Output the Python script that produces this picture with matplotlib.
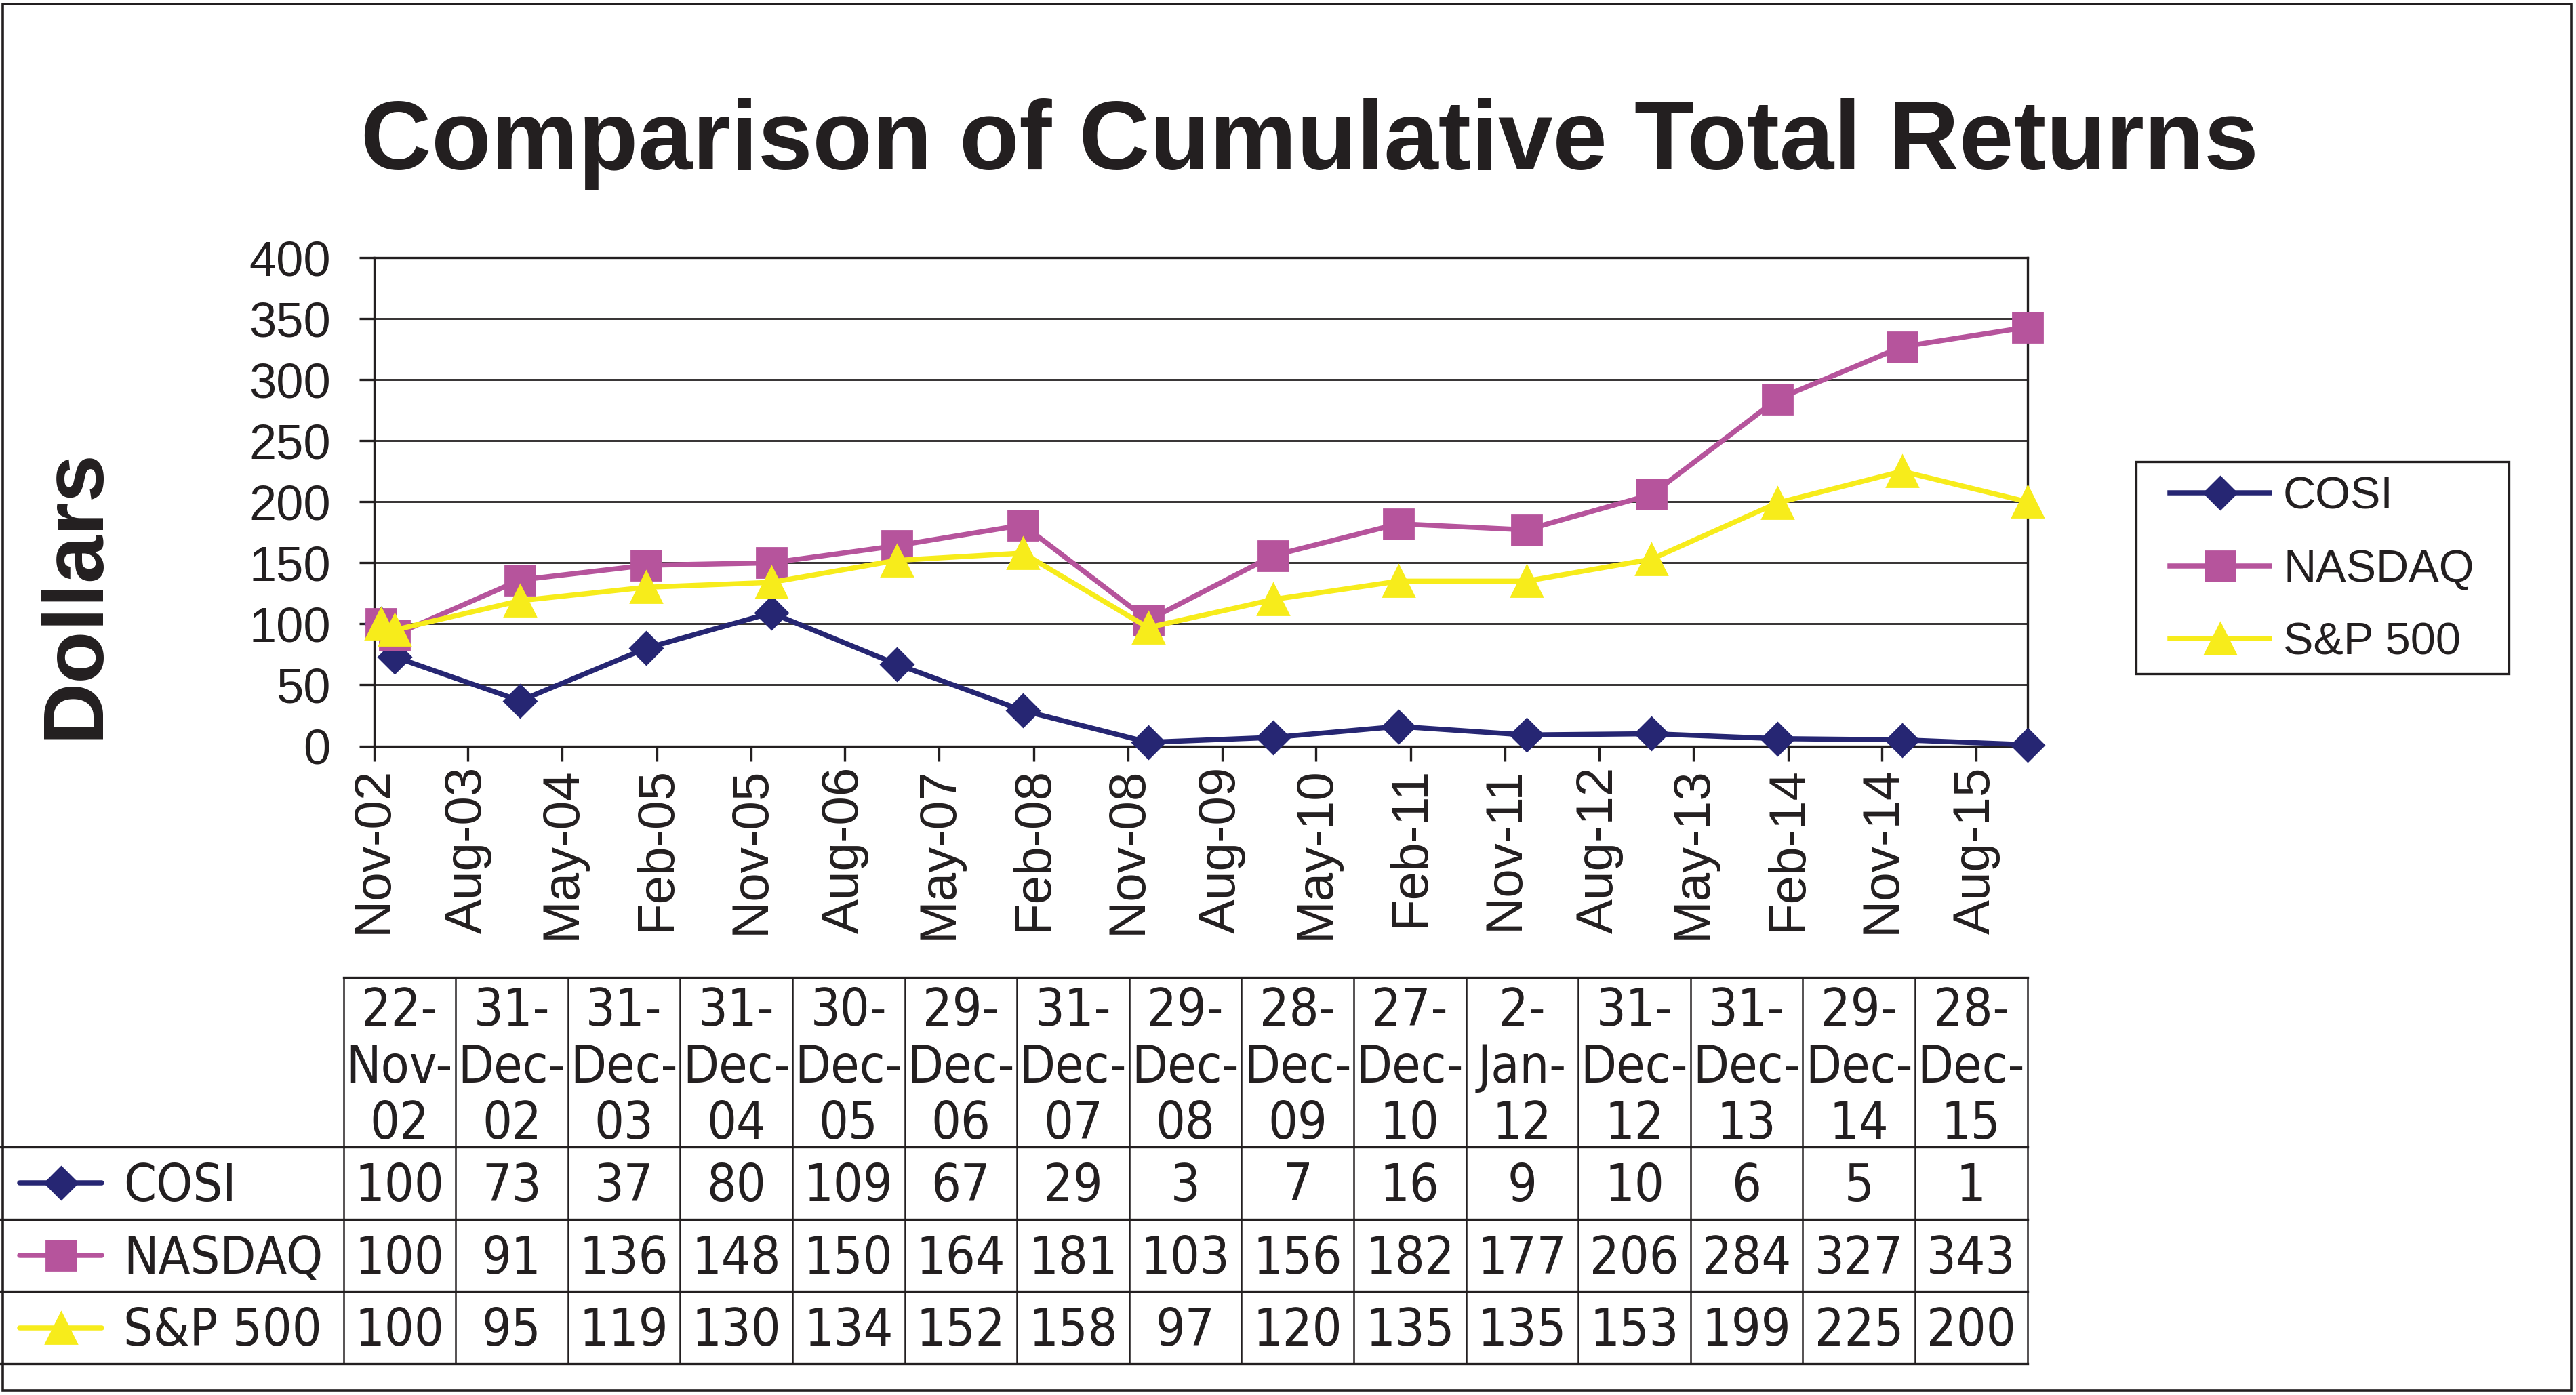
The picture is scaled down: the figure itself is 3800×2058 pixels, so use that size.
import os
import matplotlib
matplotlib.use("Agg")
import matplotlib.pyplot as plt
from matplotlib import font_manager
from matplotlib.font_manager import FontProperties
from matplotlib.textpath import TextPath
from matplotlib.patches import Rectangle
import pandas as pd

dates = ["22-Nov-02", "31-Dec-02", "31-Dec-03", "31-Dec-04", "30-Dec-05",
         "29-Dec-06", "31-Dec-07", "29-Dec-08", "28-Dec-09", "27-Dec-10",
         "2-Jan-12", "31-Dec-12", "31-Dec-13", "29-Dec-14", "28-Dec-15"]
cosi = [100, 73, 37, 80, 109, 67, 29, 3, 7, 16, 9, 10, 6, 5, 1]
nasdaq = [100, 91, 136, 148, 150, 164, 181, 103, 156, 182, 177, 206, 284, 327, 343]
sp500 = [100, 95, 119, 130, 134, 152, 158, 97, 120, 135, 135, 153, 199, 225, 200]
names = ["COSI", "NASDAQ", "S&P 500"]
colors = ["#262673", "#B6549C", "#F7EC1B"]
markers = ["D", "s", "^"]
msizes = [12, 16, 16.5]

tick_labels = ["Nov-02", "Aug-03", "May-04", "Feb-05", "Nov-05", "Aug-06",
               "May-07", "Feb-08", "Nov-08", "Aug-09", "May-10", "Feb-11",
               "Nov-11", "Aug-12", "May-13", "Feb-14", "Nov-14", "Aug-15"]
y_ticks = [0, 50, 100, 150, 200, 250, 300, 350, 400]

title = "Comparison of Cumulative Total Returns"
ylabel = "Dollars"

ink = "#231F20"

plt.rcParams["font.family"] = ["Liberation Sans", "DejaVu Sans"]

# the data table uses a narrow face; take one if installed
wanted = ["LiberationSansNarrow-Regular.ttf", "NotoSans-Condensed.ttf",
          "NotoSans-SemiCondensed.ttf", "DejaVuSansCondensed.ttf"]
files = {os.path.basename(f.fname): f.fname for f in font_manager.fontManager.ttflist}
table_fp = FontProperties(family=["Liberation Sans", "DejaVu Sans"])
for w in wanted:
    if w in files:
        table_fp = FontProperties(fname=files[w])
        break

# size the table font so "Dec-" and the digit height match the reference
px_per_pt = 200 / 72
w_em = TextPath((0, 0), "Dec-", size=1, prop=table_fp).get_extents().width
h_em = TextPath((0, 0), "0", size=1, prop=table_fp).get_extents().height
table_size = min(150 / w_em, 58 / h_em) / px_per_pt
table_fp.set_size(table_size)

x_dates = pd.to_datetime(dates, format="%d-%b-%y")
x_ticks = pd.to_datetime(tick_labels, format="%b-%y")

# layout is measured on a 1568 x 849 view of the reference
def fx(x):
    return x / 1568

def fy(y):
    return 1 - y / 849

fig = plt.figure(figsize=(19, 10.29), dpi=200)

# Title and axis label
fig.text(fx(797), fy(103), title, ha="center", va="baseline",
         fontsize=52, fontweight="bold", color=ink)
fig.text(fx(46), fy(361), ylabel, ha="center", va="center", rotation=90,
         fontsize=45.5, fontweight="bold", color=ink)

# Chart
ax = fig.add_axes([fx(227.6), fy(454), fx(1234) - fx(227.6), fy(156.8) - fy(454)])
lines = []
for vals, name, c, m, ms in zip([cosi, nasdaq, sp500], names, colors, markers, msizes):
    ln, = ax.plot(x_dates, vals, color=c, lw=2.7, marker=m, ms=ms,
                  mec=c, mfc=c, label=name, clip_on=False, zorder=3)
    lines.append(ln)

ax.set_xlim(x_ticks[0], x_dates[-1])
ax.set_ylim(0, 400)
ax.set_yticks(y_ticks)
ax.set_xticks(x_ticks)
ax.set_xticklabels(tick_labels, rotation=90)
ax.grid(axis="y", color=ink, lw=1.0)
ax.grid(axis="x", visible=False)
ax.set_axisbelow(True)
for s in ax.spines.values():
    s.set_color(ink)
    s.set_linewidth(1.2)
ax.tick_params(axis="both", direction="out", length=8, width=1.2,
               color=ink, labelcolor=ink, labelsize=26)
ax.tick_params(axis="y", pad=15)
ax.tick_params(axis="x", pad=3, labelsize=27.5)

# Legend: frameless legend inside a drawn box
leg = fig.legend(handles=lines, loc="center left",
                 bbox_to_anchor=(fx(1321), fy(347)), fontsize=24,
                 frameon=False, borderpad=0, labelspacing=0.68,
                 handlelength=2.2, handletextpad=0.3, borderaxespad=0)
for t in leg.get_texts():
    t.set_color(ink)
fig.add_artist(Rectangle((fx(1300), fy(410)), fx(1527) - fx(1300), fy(281) - fy(410),
                         transform=fig.transFigure, fill=False, lw=1.2, ec=ink))

# Data table under the chart
tax = fig.add_axes([0, fy(830), fx(1234), fy(595) - fy(830)])
tax.set_xlim(0, 1234)
tax.set_ylim(830, 595)
tax.axis("off")

label_w = 209
col_w = (1234 - label_w) / len(dates)
head_top = 595
row_edges = [698, 742, 786, 830]

tax.plot([label_w, 1234], [head_top, head_top], color=ink, lw=1.2, clip_on=False)
for y in row_edges:
    tax.plot([0, 1234], [y, y], color=ink, lw=1.2, clip_on=False)
for i in range(len(dates) + 1):
    x = label_w + i * col_w
    tax.plot([x, x], [head_top, row_edges[-1]], color=ink, lw=0.9, clip_on=False)

head_base = [624, 659, 693]
for i, d in enumerate(dates):
    parts = d.split("-")
    rows = [parts[0] + "-", parts[1] + "-", parts[2]]
    xc = label_w + (i + 0.5) * col_w
    for txt, yb in zip(rows, head_base):
        tax.text(xc, yb, txt, ha="center", va="baseline",
                 fontproperties=table_fp, color=ink)

row_base = [731, 775, 819]
row_mid = [720, 764, 808]
for r, (vals, name, c, m, ms) in enumerate(zip([cosi, nasdaq, sp500], names,
                                               colors, markers, msizes)):
    tax.plot([12, 62], [row_mid[r], row_mid[r]], color=c, lw=2.7,
             solid_capstyle="round", clip_on=False)
    tax.plot([37], [row_mid[r]], marker=m, ms=ms, color=c, clip_on=False)
    tax.text(75, row_base[r], name, ha="left", va="baseline",
             fontproperties=table_fp, color=ink)
    for i, v in enumerate(vals):
        xc = label_w + (i + 0.5) * col_w
        tax.text(xc, row_base[r], str(v), ha="center", va="baseline",
                 fontproperties=table_fp, color=ink)

# outer frame
fig.add_artist(Rectangle((fx(1.5), fy(846)), fx(1565) - fx(1.5), fy(2.5) - fy(846),
                         transform=fig.transFigure, fill=False, lw=1.3, ec=ink))

fig.savefig("out.png", dpi=200, facecolor="white")
